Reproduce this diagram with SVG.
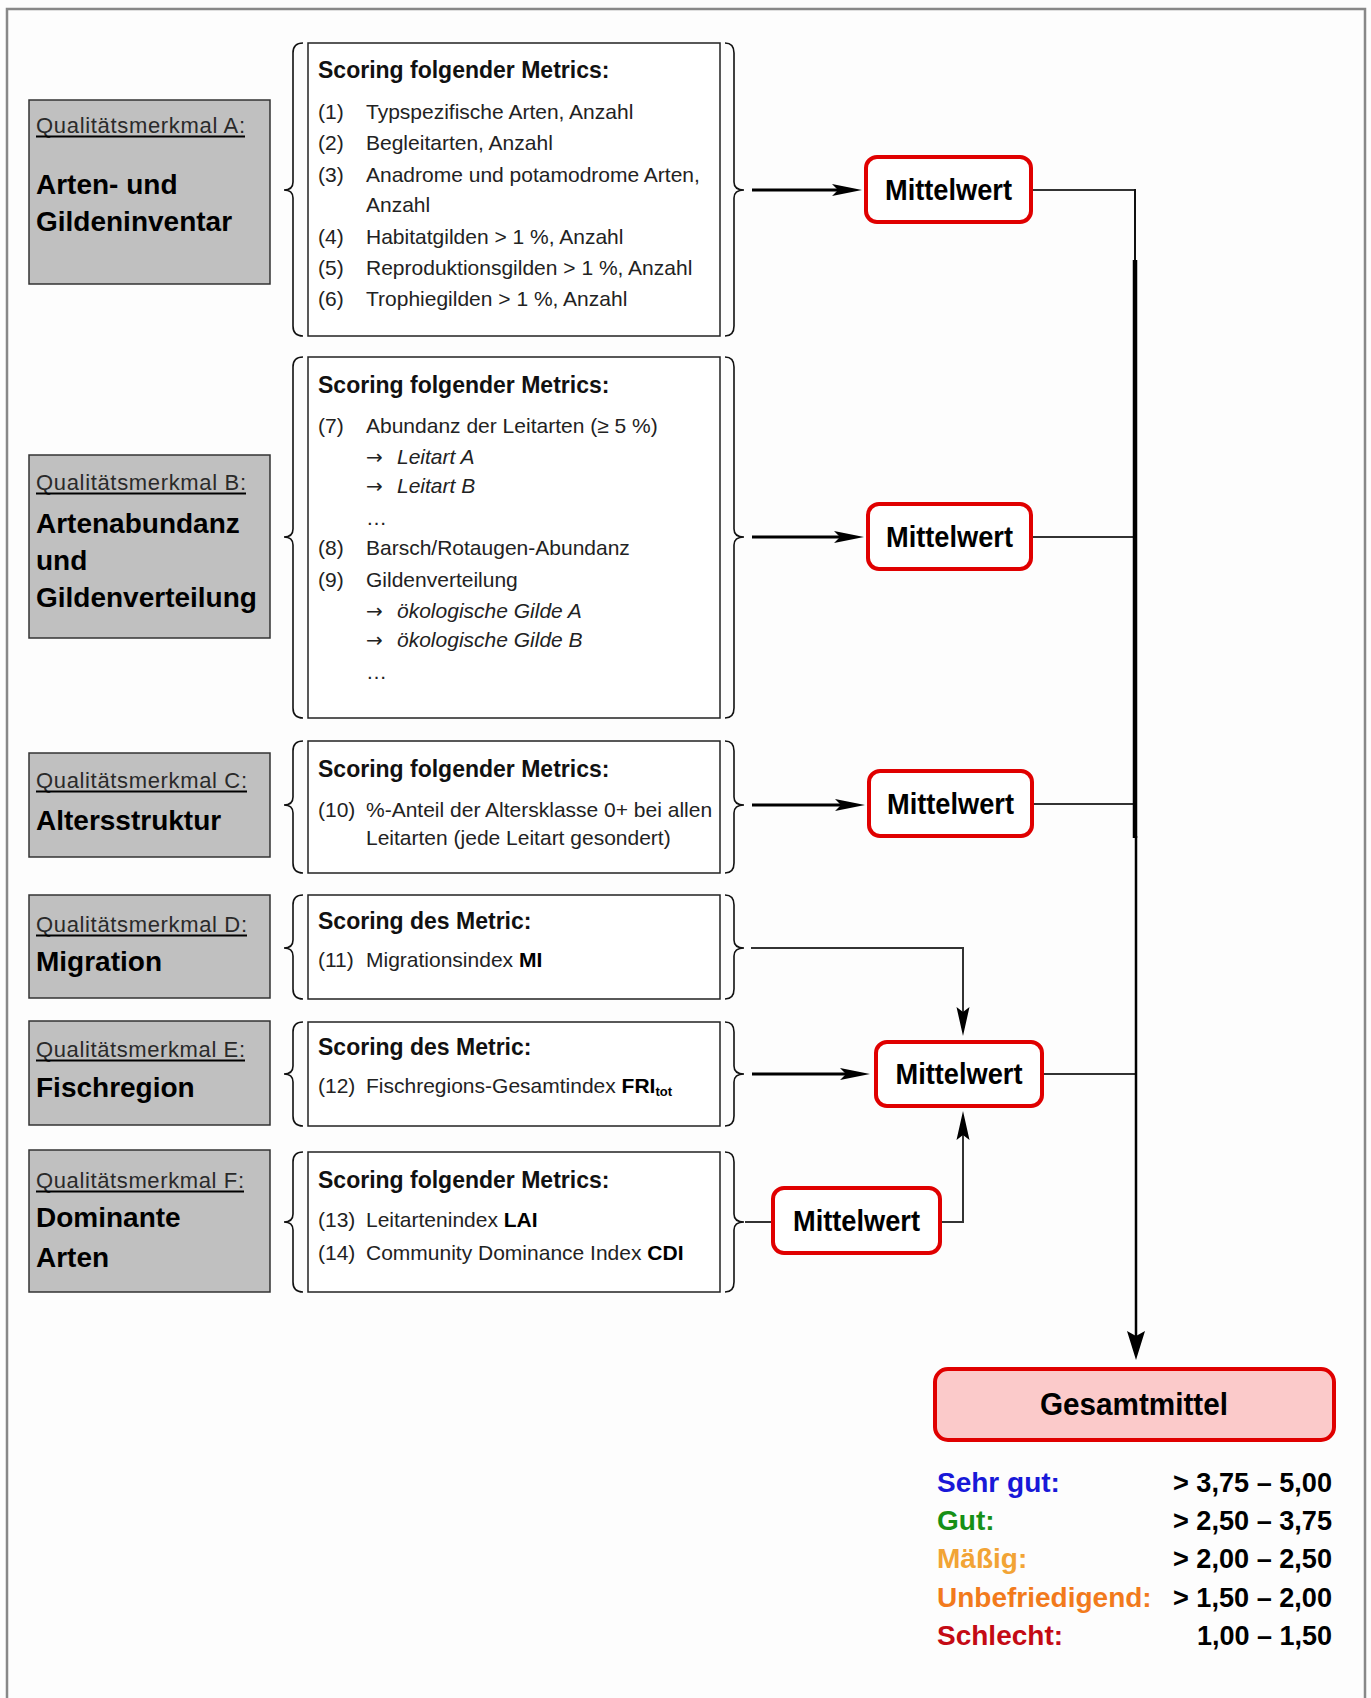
<svg xmlns="http://www.w3.org/2000/svg" width="1371" height="1698" viewBox="0 0 1371 1698">
<defs>
<style>
.bg{fill:#fdfdfd}
.frame{fill:none;stroke:#888;stroke-width:2.5}
.gray{fill:#c0c0c0;stroke:#333;stroke-width:1.5}
.mbox{fill:#fff;stroke:#222;stroke-width:1.5}
.brace{fill:none;stroke:#111;stroke-width:1.6}
.qual{font-family:"Liberation Sans",Arial,sans-serif;font-size:22px;fill:#2a2a2a}
.ul{stroke:#000;stroke-width:2}
.title{font-family:"Liberation Sans",Arial,sans-serif;font-size:28px;font-weight:bold;fill:#000}
.head{font-family:"Liberation Sans",Arial,sans-serif;font-size:23px;font-weight:bold;fill:#111}
.it{font-family:"Liberation Sans",Arial,sans-serif;font-size:21px;fill:#222}
.itl{font-style:italic}
.arr{font-family:"DejaVu Sans",sans-serif;font-size:20px}
.b{font-weight:bold;fill:#000}
.mw{fill:#fff;stroke:#e00000;stroke-width:4}
.mwt{font-family:"Liberation Sans",Arial,sans-serif;font-size:29px;font-weight:bold;fill:#000;text-anchor:middle}
.thick{fill:none;stroke:#000;stroke-width:3.2}
.thin{fill:none;stroke:#333;stroke-width:2}
.leg{font-family:"Liberation Sans",Arial,sans-serif;font-size:28px;font-weight:bold}
.val{font-family:"Liberation Sans",Arial,sans-serif;font-size:28px;font-weight:bold;fill:#000;text-anchor:end}
</style>
<marker id="ah" markerUnits="userSpaceOnUse" viewBox="0 0 30 14" refX="6" refY="7" markerWidth="30" markerHeight="14" orient="auto"><path d="M0,1 L30,7 L0,13 L6,7 z" fill="#000"/></marker>
<marker id="av" markerUnits="userSpaceOnUse" viewBox="0 0 29 14" refX="5" refY="7" markerWidth="29" markerHeight="14" orient="auto"><path d="M0,0.5 L29,7 L0,13.5 L5,7 z" fill="#000"/></marker>
<marker id="am" markerUnits="userSpaceOnUse" viewBox="0 0 29 18" refX="5" refY="9" markerWidth="29" markerHeight="18" orient="auto"><path d="M0,0 L29,9 L0,18 L5,9 z" fill="#000"/></marker>
</defs>
<rect class="bg" x="0" y="0" width="1371" height="1698"/>
<path class="frame" d="M7,1698 V9 H1365 V1698"/>

<g id="connectors">
<path class="thick" d="M752,190 H838" marker-end="url(#ah)"/>
<path class="thick" d="M752,537 H840" marker-end="url(#ah)"/>
<path class="thick" d="M752,805 H841" marker-end="url(#ah)"/>
<path class="thick" d="M752,1074 H846" marker-end="url(#ah)"/>
<path class="thin" d="M751,948 H963 V1012" marker-end="url(#av)"/>
<path class="thin" d="M745,1222 H773"/>
<path class="thin" d="M940,1222 H963 V1135" marker-end="url(#av)"/>
<path class="thin" d="M1031,190 H1135"/>
<path class="thin" d="M1031,537 H1135"/>
<path class="thin" d="M1032,804 H1135"/>
<path class="thin" d="M1042,1074 H1136"/>
<path fill="none" stroke="#111" stroke-width="2" d="M1135,189 V262"/>
<path fill="none" stroke="#000" stroke-width="4.5" d="M1135,260 V838"/>
<path fill="none" stroke="#000" stroke-width="2.5" d="M1136,836 V1336" marker-end="url(#am)"/>
</g>

<g id="node-A">
<rect class="gray" x="29" y="100" width="241" height="184"/>
<text class="qual" x="36" y="133" textLength="209">Qualitätsmerkmal A:</text>
<line class="ul" x1="36" y1="136.5" x2="245" y2="136.5"/>
<text class="title" x="36" y="194">Arten- und</text>
<text class="title" x="36" y="231">Gildeninventar</text>
</g>
<g id="metrics-A">
<path class="brace" d="M303,43 Q293,43 293,53 L293,182 Q293,190 284,190 Q293,190 293,198 L293,326 Q293,336 303,336"/>
<rect class="mbox" x="308" y="43" width="412" height="293"/>
<path class="brace" d="M725,43 Q734,43 734,53 L734,182 Q734,190 744,190 Q734,190 734,198 L734,326 Q734,336 725,336"/>
<text class="head" x="318" y="78">Scoring folgender Metrics:</text>
<text class="it" x="318" y="119">(1)</text><text class="it" x="366" y="119">Typspezifische Arten, Anzahl</text>
<text class="it" x="318" y="150">(2)</text><text class="it" x="366" y="150">Begleitarten, Anzahl</text>
<text class="it" x="318" y="182">(3)</text><text class="it" x="366" y="182">Anadrome und potamodrome Arten,</text>
<text class="it" x="366" y="212">Anzahl</text>
<text class="it" x="318" y="244">(4)</text><text class="it" x="366" y="244">Habitatgilden &gt; 1 %, Anzahl</text>
<text class="it" x="318" y="275">(5)</text><text class="it" x="366" y="275">Reproduktionsgilden &gt; 1 %, Anzahl</text>
<text class="it" x="318" y="306">(6)</text><text class="it" x="366" y="306">Trophiegilden &gt; 1 %, Anzahl</text>
</g>

<g id="node-B">
<rect class="gray" x="29" y="455" width="241" height="183"/>
<text class="qual" x="36" y="490" textLength="210">Qualitätsmerkmal B:</text>
<line class="ul" x1="36" y1="493.5" x2="246" y2="493.5"/>
<text class="title" x="36" y="533">Artenabundanz</text>
<text class="title" x="36" y="570">und</text>
<text class="title" x="36" y="607">Gildenverteilung</text>
</g>
<g id="metrics-B">
<path class="brace" d="M303,357 Q293,357 293,367 L293,529 Q293,537 284,537 Q293,537 293,545 L293,708 Q293,718 303,718"/>
<rect class="mbox" x="308" y="357" width="412" height="361"/>
<path class="brace" d="M725,357 Q734,357 734,367 L734,529 Q734,537 744,537 Q734,537 734,545 L734,708 Q734,718 725,718"/>
<text class="head" x="318" y="393">Scoring folgender Metrics:</text>
<text class="it" x="318" y="433">(7)</text><text class="it" x="366" y="433">Abundanz der Leitarten (≥ 5 %)</text>
<text class="it" x="366" y="464"><tspan class="arr">→</tspan><tspan class="itl" x="397">Leitart A</tspan></text>
<text class="it" x="366" y="493"><tspan class="arr">→</tspan><tspan class="itl" x="397">Leitart B</tspan></text>
<text class="it" x="366" y="525" fill="#777">…</text>
<text class="it" x="318" y="555">(8)</text><text class="it" x="366" y="555">Barsch/Rotaugen-Abundanz</text>
<text class="it" x="318" y="587">(9)</text><text class="it" x="366" y="587">Gildenverteilung</text>
<text class="it" x="366" y="618"><tspan class="arr">→</tspan><tspan class="itl" x="397">ökologische Gilde A</tspan></text>
<text class="it" x="366" y="647"><tspan class="arr">→</tspan><tspan class="itl" x="397">ökologische Gilde B</tspan></text>
<text class="it" x="366" y="679" fill="#777">…</text>
</g>

<g id="node-C">
<rect class="gray" x="29" y="753" width="241" height="104"/>
<text class="qual" x="36" y="788" textLength="211">Qualitätsmerkmal C:</text>
<line class="ul" x1="36" y1="791.5" x2="247" y2="791.5"/>
<text class="title" x="36" y="830">Altersstruktur</text>
</g>
<g id="metrics-C">
<path class="brace" d="M303,741 Q293,741 293,751 L293,797 Q293,805 284,805 Q293,805 293,813 L293,863 Q293,873 303,873"/>
<rect class="mbox" x="308" y="741" width="412" height="132"/>
<path class="brace" d="M725,741 Q734,741 734,751 L734,797 Q734,805 744,805 Q734,805 734,813 L734,863 Q734,873 725,873"/>
<text class="head" x="318" y="777">Scoring folgender Metrics:</text>
<text class="it" x="318" y="817">(10)</text><text class="it" x="366" y="817">%-Anteil der Altersklasse 0+ bei allen</text>
<text class="it" x="366" y="845">Leitarten (jede Leitart gesondert)</text>
</g>

<g id="node-D">
<rect class="gray" x="29" y="895" width="241" height="103"/>
<text class="qual" x="36" y="932" textLength="211">Qualitätsmerkmal D:</text>
<line class="ul" x1="36" y1="935.5" x2="247" y2="935.5"/>
<text class="title" x="36" y="971">Migration</text>
</g>
<g id="metrics-D">
<path class="brace" d="M303,895 Q293,895 293,905 L293,940 Q293,948 284,948 Q293,948 293,956 L293,989 Q293,999 303,999"/>
<rect class="mbox" x="308" y="895" width="412" height="104"/>
<path class="brace" d="M725,895 Q734,895 734,905 L734,940 Q734,948 744,948 Q734,948 734,956 L734,989 Q734,999 725,999"/>
<text class="head" x="318" y="929">Scoring des Metric:</text>
<text class="it" x="318" y="967">(11)</text><text class="it" x="366" y="967">Migrationsindex <tspan class="b">MI</tspan></text>
</g>

<g id="node-E">
<rect class="gray" x="29" y="1021" width="241" height="104"/>
<text class="qual" x="36" y="1057" textLength="209">Qualitätsmerkmal E:</text>
<line class="ul" x1="36" y1="1060.5" x2="245" y2="1060.5"/>
<text class="title" x="36" y="1097">Fischregion</text>
</g>
<g id="metrics-E">
<path class="brace" d="M303,1022 Q293,1022 293,1032 L293,1066 Q293,1074 284,1074 Q293,1074 293,1082 L293,1116 Q293,1126 303,1126"/>
<rect class="mbox" x="308" y="1022" width="412" height="104"/>
<path class="brace" d="M725,1022 Q734,1022 734,1032 L734,1066 Q734,1074 744,1074 Q734,1074 734,1082 L734,1116 Q734,1126 725,1126"/>
<text class="head" x="318" y="1055">Scoring des Metric:</text>
<text class="it" x="318" y="1093">(12)</text><text class="it" x="366" y="1093">Fischregions-Gesamtindex <tspan class="b">FRI</tspan><tspan class="b" font-size="13" dy="3">tot</tspan></text>
</g>

<g id="node-F">
<rect class="gray" x="29" y="1150" width="241" height="142"/>
<text class="qual" x="36" y="1188" textLength="208">Qualitätsmerkmal F:</text>
<line class="ul" x1="36" y1="1191.5" x2="244" y2="1191.5"/>
<text class="title" x="36" y="1227">Dominante</text>
<text class="title" x="36" y="1267">Arten</text>
</g>
<g id="metrics-F">
<path class="brace" d="M303,1152 Q293,1152 293,1162 L293,1214 Q293,1222 284,1222 Q293,1222 293,1230 L293,1282 Q293,1292 303,1292"/>
<rect class="mbox" x="308" y="1152" width="412" height="140"/>
<path class="brace" d="M725,1152 Q734,1152 734,1162 L734,1214 Q734,1222 744,1222 Q734,1222 734,1230 L734,1282 Q734,1292 725,1292"/>
<text class="head" x="318" y="1188">Scoring folgender Metrics:</text>
<text class="it" x="318" y="1227">(13)</text><text class="it" x="366" y="1227">Leitartenindex <tspan class="b">LAI</tspan></text>
<text class="it" x="318" y="1260">(14)</text><text class="it" x="366" y="1260">Community Dominance Index <tspan class="b">CDI</tspan></text>
</g>

<g id="mittelwert-1">
<rect class="mw" x="866" y="157" width="165" height="65" rx="11"/>
<text class="mwt" x="948.5" y="200" textLength="127" lengthAdjust="spacingAndGlyphs">Mittelwert</text>
</g>
<g id="mittelwert-2">
<rect class="mw" x="868" y="504" width="163" height="65" rx="11"/>
<text class="mwt" x="949.5" y="547" textLength="127" lengthAdjust="spacingAndGlyphs">Mittelwert</text>
</g>
<g id="mittelwert-3">
<rect class="mw" x="869" y="771" width="163" height="65" rx="11"/>
<text class="mwt" x="950.5" y="814" textLength="127" lengthAdjust="spacingAndGlyphs">Mittelwert</text>
</g>
<g id="mittelwert-4">
<rect class="mw" x="876" y="1042" width="166" height="64" rx="11"/>
<text class="mwt" x="959" y="1084" textLength="127" lengthAdjust="spacingAndGlyphs">Mittelwert</text>
</g>
<g id="mittelwert-5">
<rect class="mw" x="773" y="1188" width="167" height="65" rx="11"/>
<text class="mwt" x="856.5" y="1231" textLength="127" lengthAdjust="spacingAndGlyphs">Mittelwert</text>
</g>

<g id="gesamtmittel">
<rect x="935" y="1369" width="399" height="71" rx="13" fill="#fbcaca" stroke="#e00000" stroke-width="4"/>
<text x="1134" y="1415" font-family="'Liberation Sans',Arial,sans-serif" font-size="32" font-weight="bold" text-anchor="middle" textLength="188" lengthAdjust="spacingAndGlyphs" fill="#000">Gesamtmittel</text>
</g>

<g id="legend">
<text class="leg" x="937" y="1492" fill="#1818d8">Sehr gut:</text>
<text class="leg" x="937" y="1530" fill="#169016">Gut:</text>
<text class="leg" x="937" y="1568" fill="#f2a435">Mäßig:</text>
<text class="leg" x="937" y="1607" fill="#f27a1c">Unbefriedigend:</text>
<text class="leg" x="937" y="1645" fill="#c40a14">Schlecht:</text>
<text class="val" x="1332" y="1492" textLength="159" lengthAdjust="spacingAndGlyphs">&gt; 3,75 – 5,00</text>
<text class="val" x="1332" y="1530" textLength="159" lengthAdjust="spacingAndGlyphs">&gt; 2,50 – 3,75</text>
<text class="val" x="1332" y="1568" textLength="159" lengthAdjust="spacingAndGlyphs">&gt; 2,00 – 2,50</text>
<text class="val" x="1332" y="1607" textLength="159" lengthAdjust="spacingAndGlyphs">&gt; 1,50 – 2,00</text>
<text class="val" x="1332" y="1645" textLength="135" lengthAdjust="spacingAndGlyphs">1,00 – 1,50</text>
</g>
</svg>
